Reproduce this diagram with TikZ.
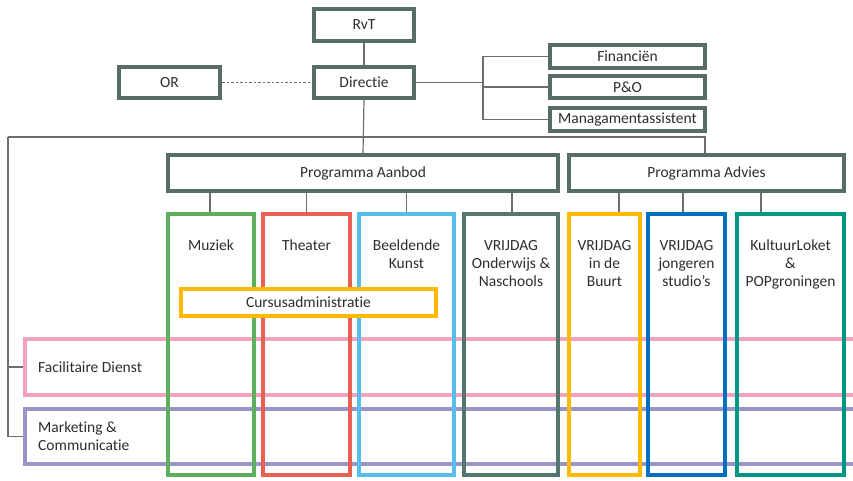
\documentclass[tikz,border=0pt]{standalone}
\usepackage{fontspec}
\setmainfont{Carlito}[Ligatures=NoCommon]
\usepackage{tikz}
\usetikzlibrary{positioning}
\usetikzlibrary{calc}
\definecolor{cbox}{RGB}{88,110,100}
\definecolor{cgreen}{RGB}{92,175,92}
\definecolor{cred}{RGB}{232,96,82}
\definecolor{cblue}{RGB}{86,190,236}
\definecolor{cslate}{RGB}{84,118,108}
\definecolor{cyellow}{RGB}{255,186,0}
\definecolor{cdblue}{RGB}{0,112,192}
\definecolor{cteal}{RGB}{0,150,132}
\definecolor{cpink}{RGB}{240,162,190}
\definecolor{clav}{RGB}{152,150,200}
\definecolor{ctext}{RGB}{45,45,45}
\definecolor{cline}{RGB}{110,110,110}

\begin{document}
\begin{tikzpicture}[x=1pt,y=-1pt,
  font=\fontsize{15.5}{18}\selectfont, text=ctext,
  head/.style={rectangle,draw=cbox,line width=4pt,fill=white,inner sep=0pt},
  colbox/.style={rectangle,line width=4pt,minimum height=261pt,inner sep=0pt},
  coltext/.style={anchor=north,align=center,inner sep=0pt},
  band/.style={rectangle,line width=4pt,minimum width=830pt,inner sep=0pt},
  conn/.style={draw=cline,line width=1.2pt}]
\useasboundingbox (0,0) rectangle (853,481);
	% bands
	\node[band,draw=cpink,minimum height=56pt] (fac) at (440,367){};
	\node[band,draw=clav,minimum height=55pt] (mark) at (440,436.5){};
	\node[anchor=west,inner sep=0pt] (fact) at (38,367) {Facilitaire Dienst};
	\node[anchor=west,align=left,inner sep=0pt] (markt) at (38,436.5) {Marketing \&\\Communicatie};
	% columns
	\foreach \nm/\cx/\bw/\cc/\txt in {muz/211/86/cgreen/{Muziek},
	    thr/306.5/87/cred/{Theater},
	    bk/406.5/95/cblue/{Beeldende\\Kunst},
	    vo/511/94/cslate/{VRIJDAG\\Onderwijs \&\\Naschools},
	    vb/604.5/71/cyellow/{VRIJDAG\\in de\\Buurt},
	    vj/686.5/77/cdblue/{VRIJDAG\\jongeren\\studio’s},
	    kl/790.5/107/cteal/{KultuurLoket\\\&\\POPgroningen}}{
	    \node[colbox,draw=\cc,minimum width=\bw pt] (\nm) at (\cx,344.5){};
	    \node[coltext] (\nm t) at ([yshift=-28pt]\nm.north) {\txt};
	}
	\node[head,draw=cyellow,minimum width=255pt,minimum height=27pt] (cur) at (308.5,302.5) {Cursusadministratie};
	% top
	\node[head,minimum width=100pt,minimum height=32pt] (rvt) at (364,25) {RvT};
	\node[head,minimum width=100pt,minimum height=31pt] (dir) at (364,82.5) {Directie};
	\node[head,minimum width=101pt,minimum height=31pt] (or) at (169.5,82.5) {OR};
	\node[head,minimum width=155pt,minimum height=23pt] (fin) at (627.5,56.5) {Financiën};
	\node[head,minimum width=155pt,minimum height=22pt] (po) at (627.5,87) {P\&O};
	\node[head,minimum width=155pt,minimum height=23pt] (man) at (627.5,119.5) {Managamentassistent};
	\node[head,minimum width=390pt,minimum height=36pt] (aanbod) at (363,173) {Programma Aanbod};
	\node[head,minimum width=275pt,minimum height=36pt] (advies) at (706.5,173) {Programma Advies};
	\coordinate (lt) at (8,137);
	\coordinate (rb) at (483,82.5);
	\draw[conn] (rvt) -- (dir);
	\draw[conn,dash pattern=on 2.5pt off 2pt] (or) -- (dir);
	\draw[conn] (dir.south) -- (aanbod.north);
	\draw[conn] (lt) -| ([xshift=-1.5pt]advies.north);
	\draw[conn] (lt) |- (mark.west);
	\draw[conn] (fac.west) -- (fac.west -| lt);
	\draw[conn] (dir.east) -- (rb);
	\draw[conn] (fin.west) -| (rb);
	\draw[conn] (po.west) -- (po.west -| rb);
	\draw[conn] (man.west) -| (rb);
	\foreach \nm/\dx/\up in {muz/-1/aanbod,thr/0/aanbod,bk/0/aanbod,vo/1/aanbod,vb/14.5/advies,vj/-3.5/advies,kl/-29.5/advies}
	    \draw[conn] ([xshift=\dx pt]\nm.north) -- ([xshift=\dx pt]\nm.north |- \up.south);
\end{tikzpicture}
\end{document}
